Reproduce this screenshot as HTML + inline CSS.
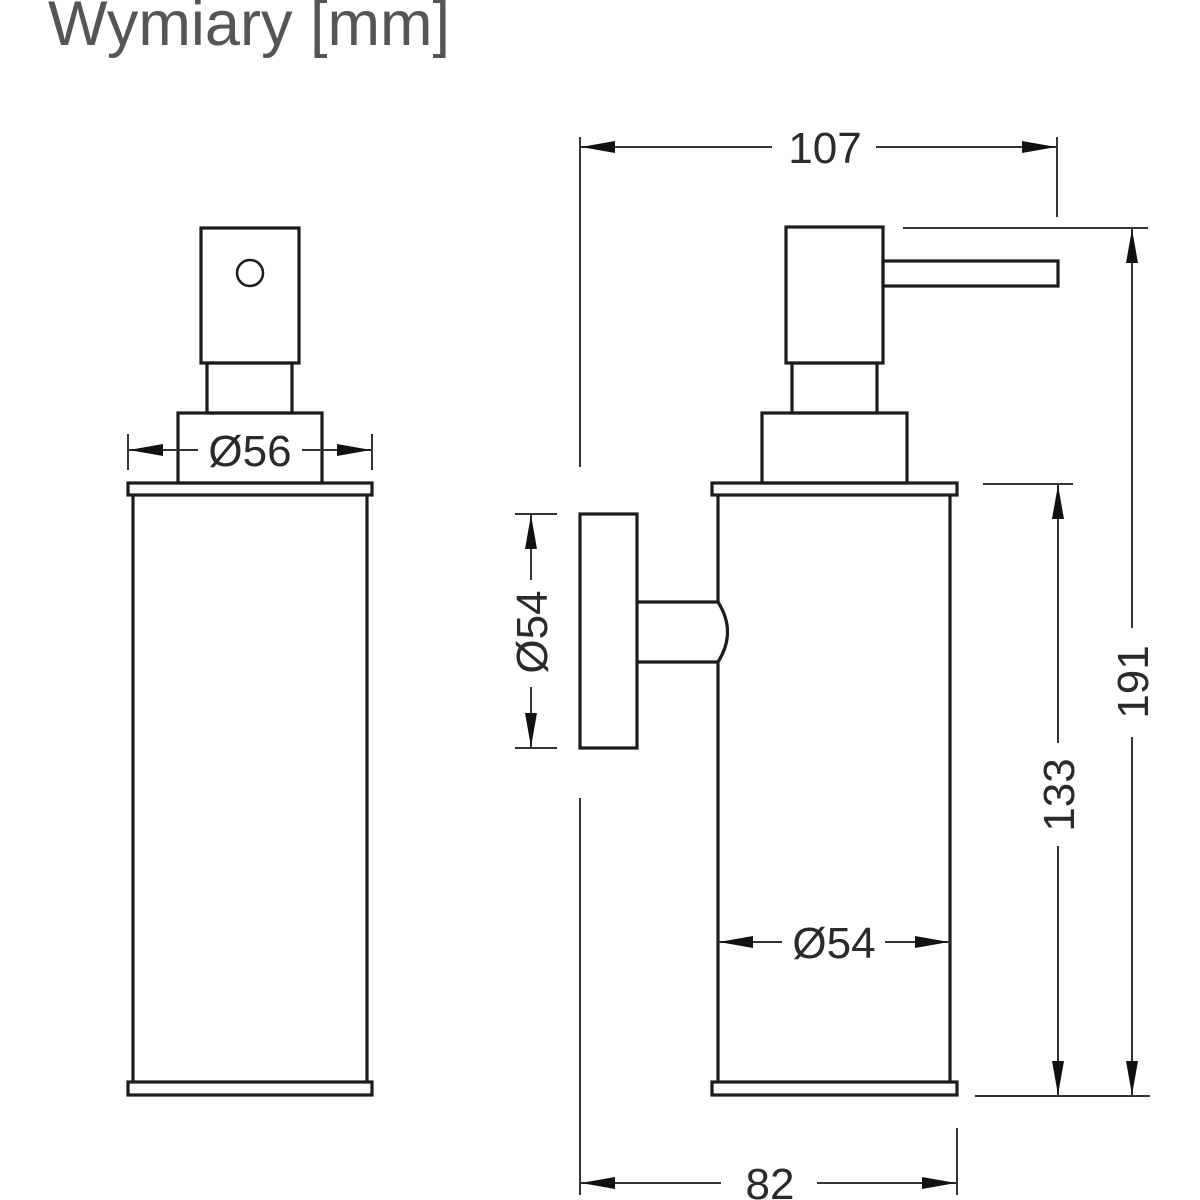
<!DOCTYPE html>
<html><head><meta charset="utf-8"><style>
html,body{margin:0;padding:0;background:#fff;}
svg{display:block;}
text{font-family:"Liberation Sans",Arial,sans-serif;}
</style></head><body>
<svg width="1200" height="1200" viewBox="0 0 1200 1200" xmlns="http://www.w3.org/2000/svg">
<rect width="1200" height="1200" fill="#fff"/>
<text x="48" y="45" font-size="63" fill="#555" textLength="402" lengthAdjust="spacingAndGlyphs">Wymiary [mm]</text>

<!-- LEFT VIEW -->
<g fill="none" stroke="#1c1c1c" stroke-width="3.2">
  <rect x="201" y="228" width="98" height="135"/>
  <circle cx="250" cy="273" r="13" stroke-width="2.5"/>
  <rect x="207" y="363" width="85" height="50"/>
  <rect x="178" y="413" width="144" height="70"/>
  <rect x="128" y="483" width="244" height="12"/>
  <line x1="133" y1="495" x2="133" y2="1082"/>
  <line x1="367" y1="495" x2="367" y2="1082"/>
  <rect x="128" y="1082" width="244" height="13"/>
</g>
<!-- Ø56 dim -->
<g stroke="#333" stroke-width="2" fill="#111">
  <line x1="128" y1="434" x2="128" y2="470"/>
  <line x1="372" y1="434" x2="372" y2="470"/>
  <line x1="128" y1="450" x2="198" y2="450"/>
  <line x1="302" y1="450" x2="372" y2="450"/>
  <polygon points="129,450 163,444 163,456" stroke="none"/>
  <polygon points="371,450 337,444 337,456" stroke="none"/>
</g>
<text x="250" y="466" font-size="44" fill="#2a2a2a" text-anchor="middle">Ø56</text>

<!-- RIGHT VIEW -->
<g fill="none" stroke="#1c1c1c" stroke-width="3.2">
  <rect x="786" y="227" width="97" height="136"/>
  <rect x="883" y="261" width="175" height="25"/>
  <rect x="792" y="363" width="85" height="50"/>
  <rect x="762" y="413" width="145" height="70"/>
  <rect x="712" y="483" width="245" height="12"/>
  <line x1="718" y1="495" x2="718" y2="602"/>
  <line x1="718" y1="662" x2="718" y2="1082"/>
  <line x1="950" y1="495" x2="950" y2="1082"/>
  <rect x="712" y="1082" width="245" height="13"/>
  <rect x="580" y="514" width="57" height="234"/>
  <path d="M637,602 L718,602 Q737,632 718,662 L637,662"/>
</g>

<!-- dimension lines -->
<g stroke="#333" stroke-width="2" fill="none">
  <line x1="580" y1="137" x2="580" y2="467"/>
  <line x1="580" y1="798" x2="580" y2="1195"/>
  <line x1="1057" y1="137" x2="1057" y2="217"/>
  <line x1="580" y1="147" x2="772" y2="147"/>
  <line x1="876" y1="147" x2="1057" y2="147"/>
  <line x1="903" y1="228" x2="1148" y2="228"/>
  <line x1="983" y1="484" x2="1073" y2="484"/>
  <line x1="975" y1="1096" x2="1150" y2="1096"/>
  <line x1="1058" y1="484" x2="1058" y2="743"/>
  <line x1="1058" y1="846" x2="1058" y2="1096"/>
  <line x1="1132" y1="228" x2="1132" y2="628"/>
  <line x1="1132" y1="737" x2="1132" y2="1096"/>
  <line x1="515" y1="514" x2="557" y2="514"/>
  <line x1="515" y1="748" x2="557" y2="748"/>
  <line x1="531" y1="514" x2="531" y2="580"/>
  <line x1="531" y1="687" x2="531" y2="748"/>
  <line x1="718" y1="942" x2="782" y2="942"/>
  <line x1="885" y1="942" x2="950" y2="942"/>
  <line x1="957" y1="1128" x2="957" y2="1195"/>
  <line x1="580" y1="1183" x2="721" y2="1183"/>
  <line x1="817" y1="1183" x2="957" y2="1183"/>
</g>
<g fill="#111">
  <polygon points="581,147 615,141 615,153"/>
  <polygon points="1056,147 1022,141 1022,153"/>
  <polygon points="1132,229 1126,263 1138,263"/>
  <polygon points="1132,1095 1126,1061 1138,1061"/>
  <polygon points="1058,485 1052,519 1064,519"/>
  <polygon points="1058,1095 1052,1061 1064,1061"/>
  <polygon points="531,515 525,549 537,549"/>
  <polygon points="531,747 525,713 537,713"/>
  <polygon points="719,942 753,936 753,948"/>
  <polygon points="949,942 915,936 915,948"/>
  <polygon points="581,1183 615,1177 615,1189"/>
  <polygon points="956,1183 922,1177 922,1189"/>
</g>

<g font-size="44" fill="#2a2a2a" text-anchor="middle">
  <text x="825" y="163">107</text>
  <text x="834" y="958">Ø54</text>
  <text x="770" y="1199">82</text>
  <text transform="translate(547,632) rotate(-90)" x="0" y="0">Ø54</text>
  <text transform="translate(1074,795) rotate(-90)" x="0" y="0">133</text>
  <text transform="translate(1148,682) rotate(-90)" x="0" y="0">191</text>
</g>
</svg>
</body></html>
